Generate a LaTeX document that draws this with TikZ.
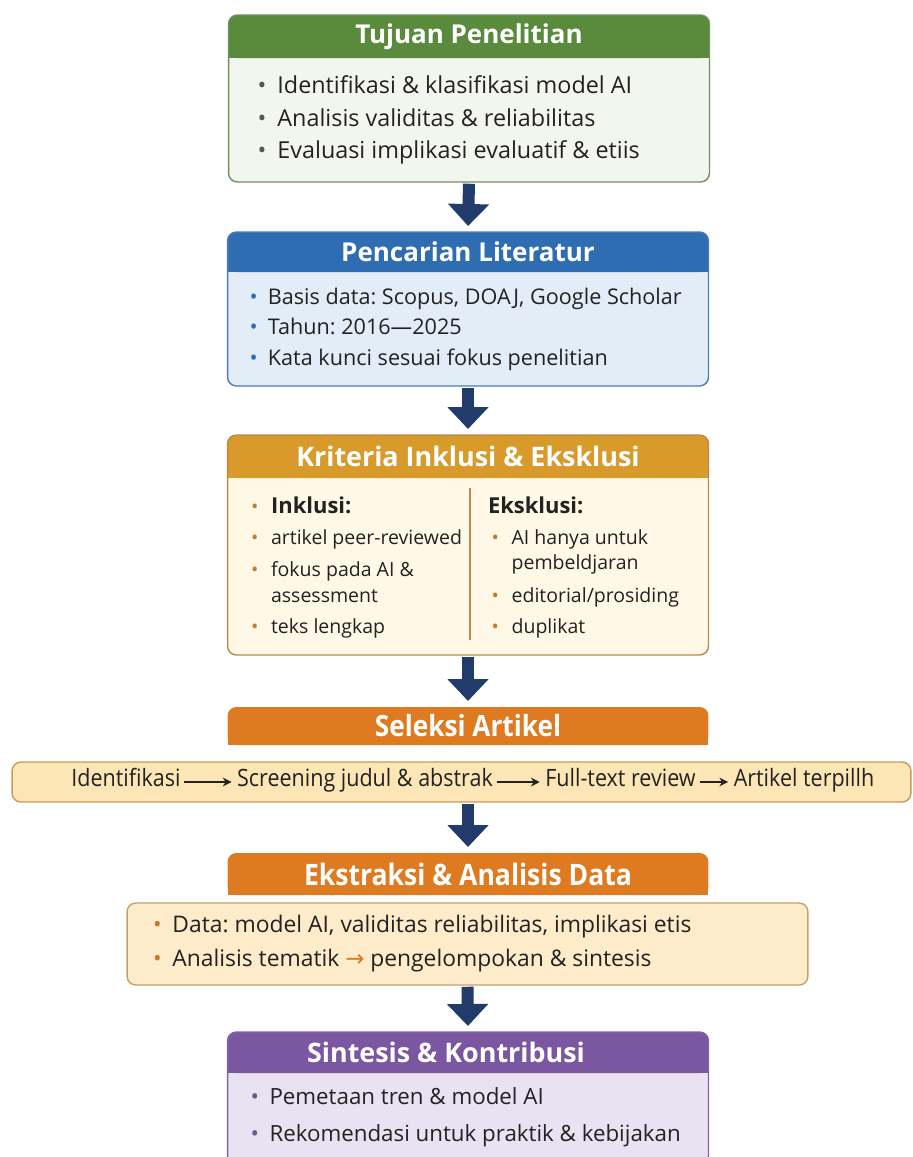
\documentclass[tikz,border=0pt]{standalone}
\usepackage{fontspec}
\setmainfont{Open Sans}
\newfontfamily\narrowfont[FakeStretch=0.9]{Open Sans}
\newfontfamily\glyphfont{DejaVu Sans}
\usetikzlibrary{positioning}
\usetikzlibrary{arrows.meta}
\usetikzlibrary{backgrounds}
\frenchspacing

\definecolor{ink}{HTML}{222222}
\definecolor{navy}{HTML}{213C6B}
\definecolor{greenhead}{HTML}{5A8B3C}
\definecolor{greenbg}{HTML}{F3F6EF}
\definecolor{greenline}{HTML}{6E9060}
\definecolor{bluehead}{HTML}{2F6DB3}
\definecolor{bluebg}{HTML}{E3EDF7}
\definecolor{blueline}{HTML}{4A7DB5}
\definecolor{goldhead}{HTML}{D89A2A}
\definecolor{goldbg}{HTML}{FFF8E6}
\definecolor{goldline}{HTML}{B98A4A}
\definecolor{orangehead}{HTML}{DE7A20}
\definecolor{stripbg}{HTML}{FDE6B6}
\definecolor{stripline}{HTML}{C79A5C}
\definecolor{orangebg}{HTML}{FDEBC9}
\definecolor{orangeline}{HTML}{C9A06A}
\definecolor{orangedot}{HTML}{C8782A}
\definecolor{purplehead}{HTML}{7B57A2}
\definecolor{purplebg}{HTML}{E9E2F2}
\definecolor{purpleline}{HTML}{7D66A5}
\definecolor{greydot}{HTML}{555555}
\definecolor{purpledot}{HTML}{6A5A8A}

\tikzset{
  head/.style={minimum width=9.62cm, inner sep=0pt, outer sep=0pt, text=white,
    font=\bfseries\fontsize{14.8}{17}\selectfont},
  body/.style={minimum width=9.62cm, inner sep=0pt, outer sep=0pt},
  bodytext/.style={inner sep=0pt, outer sep=0pt, align=left, text=ink, anchor=west},
  column/.style={inner sep=0pt, outer sep=0pt, align=left, text=ink,
    font=\fontsize{11.1}{14.5}\selectfont},
  stepbox/.style={inner sep=1pt, text=ink, text height=0.72em, text depth=0.22em,
    font=\narrowfont\fontsize{13.6}{16}\selectfont},
  flow/.style={draw=navy, line width=0.24cm, -{Triangle[width=0.8cm, length=0.44cm]},
    shorten <=1pt, shorten >=0.12cm},
  steparrow/.style={draw=ink, line width=0.7pt, -{Stealth[length=5pt, width=5pt]},
    shorten <=1pt, shorten >=2pt}
}

% bullet in a box of fixed width
\newcommand{\bl}[1]{\makebox[0.85em][l]{\textcolor{#1}{•}}}
% frame of a stage: header band on top of the body
\newcommand{\stageframe}[4]{%
  \begin{scope}[on background layer]
    \fill[#3, rounded corners=5pt] (#1head.north west) rectangle (#1.south east);
    \fill[#2, rounded corners=5pt] (#1head.north west) rectangle (#1head.south east);
    \fill[#2] ([yshift=6pt]#1head.south west) rectangle (#1head.south east);
    \draw[#4, line width=0.8pt, rounded corners=5pt] (#1head.north west) rectangle (#1.south east);
  \end{scope}}
% header tab with rounded top only
\newcommand{\tabframe}[2]{%
  \begin{scope}[on background layer]
    \fill[#2, rounded corners=5pt] (#1.north west) rectangle (#1.south east);
    \fill[#2] ([yshift=6pt]#1.south west) rectangle (#1.south east);
  \end{scope}}

\begin{document}
\begin{tikzpicture}[x=0.02cm, y=-0.02cm]
  \useasboundingbox (0,0) rectangle (913,1157);

  % Stage 1
  \node[head, minimum height=0.86cm] (tujuanhead) at (469,36.5) {Tujuan Penelitian};
  \node[body, below=0pt of tujuanhead, minimum height=2.48cm] (tujuan) {};
  \node[bodytext, font=\fontsize{13.3}{18.5}\selectfont]
    (tujuantext) at ([xshift=0.58cm]tujuan.west) {%
    \bl{greydot}Identifikasi \& klasifikasi model AI\\
    \bl{greydot}Analisis validitas \& reliabilitas\\
    \bl{greydot}Evaluasi implikasi evaluatif \& etiis};
  \stageframe{tujuan}{greenhead}{greenbg}{greenline}

  % Stage 2
  \node[head, minimum height=0.8cm] (pencarianhead) at (468,252) {Pencarian Literatur};
  \node[body, below=0pt of pencarianhead, minimum height=2.28cm] (pencarian) {};
  \node[bodytext, font=\fontsize{12.3}{17.4}\selectfont]
    (pencariantext) at ([xshift=0.44cm]pencarian.west) {%
    \bl{bluehead}Basis data: Scopus, DOAJ, Google Scholar\\
    \bl{bluehead}Tahun: 2016—2025\\
    \bl{bluehead}Kata kunci sesuai fokus penelitian};
  \stageframe{pencarian}{bluehead}{bluebg}{blueline}

  % Stage 3
  \node[head, minimum height=0.86cm, font=\bfseries\fontsize{15.3}{17}\selectfont]
    (kriteriahead) at (468,456.5) {Kriteria Inklusi \& Eksklusi};
  \node[body, below=0pt of kriteriahead, minimum height=3.54cm] (kriteria) {};
  \node[column, anchor=north west] (inklusi) at (251,497) {%
    \bl{orangedot}\hspace{2pt}\textbf{\fontsize{12.5}{14.5}\selectfont Inklusi:}\\[3pt]
    \bl{orangedot}\hspace{2pt}artikel peer-reviewed\\[4pt]
    \bl{orangedot}\hspace{2pt}fokus pada AI \&\\
    \hspace*{0.85em}\hspace{2pt}assessment\\[3pt]
    \bl{orangedot}\hspace{2pt}teks lengkap};
  \node[column, anchor=north west] (eksklusi) at (488,497) {%
    \textbf{\fontsize{12.5}{14.5}\selectfont Eksklusi:}\\[3pt]
    \hspace*{2pt}\bl{orangedot}\hspace{2pt}AI hanya untuk\\
    \hspace*{0.85em}\hspace*{4pt}pembeldjaran\\[4pt]
    \hspace*{2pt}\bl{orangedot}\hspace{2pt}editorial/prosiding\\[3pt]
    \hspace*{2pt}\bl{orangedot}\hspace{2pt}duplikat};
  \coordinate (divtop) at (470,488);
  \coordinate (divbottom) at (470,640);
  \draw[goldline, line width=0.8pt] (divtop) -- (divbottom);
  \stageframe{kriteria}{goldhead}{goldbg}{goldline}

  % Stage 4
  \node[head, minimum height=0.76cm, font=\narrowfont\bfseries\fontsize{16.6}{18}\selectfont]
    (seleksihead) at (468,726) {Seleksi Artikel};
  \tabframe{seleksihead}{orangehead}
  \node[draw=stripline, fill=stripbg, line width=0.8pt, rounded corners=5pt,
    minimum width=17.98cm, minimum height=0.8cm] (strip) at (461.5,782) {};
  \node[stepbox] (ident) at (126,782) {Identifikasi};
  \node[stepbox] (screen) at (365,782) {Screening judul \& abstrak};
  \node[stepbox] (fulltext) at (620.5,782) {Full-text review};
  \node[stepbox] (terpilih) at (804,782) {Artikel terpillh};
  \draw[steparrow] (ident) -- (screen);
  \draw[steparrow] (screen) -- (fulltext);
  \draw[steparrow] (fulltext) -- (terpilih);

  % Stage 5
  \node[head, minimum height=0.84cm, font=\narrowfont\bfseries\fontsize{16.8}{18}\selectfont]
    (ekstraksihead) at (468,874) {Ekstraksi \& Analisis Data};
  \tabframe{ekstraksihead}{orangehead}
  \node[body, draw=orangeline, fill=orangebg, line width=0.8pt, rounded corners=5pt,
    minimum width=13.62cm, minimum height=1.64cm] (ekstraksi) at (467.5,944) {};
  \node[bodytext, font=\fontsize{13}{19.3}\selectfont]
    (ekstraksitext) at ([xshift=0.52cm]ekstraksi.west) {%
    \bl{orangedot}Data: model AI, validitas reliabilitas, implikasi etis\\
    \bl{orangedot}Analisis tematik {\glyphfont\textcolor{orangehead}{→}} pengelompokan \& sintesis};

  % Stage 6
  \node[head, minimum height=0.82cm, font=\bfseries\fontsize{15.3}{17}\selectfont]
    (sintesishead) at (468,1052.5) {Sintesis \& Kontribusi\hspace*{0.88cm}};
  \node[body, below=0pt of sintesishead, minimum height=1.84cm] (sintesis) {};
  \node[bodytext, font=\fontsize{12.7}{21}\selectfont]
    (sintesistext) at ([xshift=0.46cm, yshift=0.04cm]sintesis.west) {%
    \bl{purpledot}Pemetaan tren \& model AI\\
    \bl{purpledot}Rekomendasi untuk praktik \& kebijakan};
  \stageframe{sintesis}{purplehead}{purplebg}{purpleline}

  % Connect the stages
  \draw[flow] (tujuan.south) -- (pencarianhead.north);
  \draw[flow] (pencarian.south) -- (kriteriahead.north);
  \draw[flow] (kriteria.south) -- (seleksihead.north);
  \draw[flow] (strip.south -| ekstraksihead.north) -- (ekstraksihead.north);
  \draw[flow] (ekstraksi.south) -- (sintesishead.north);

\end{tikzpicture}
\end{document}
